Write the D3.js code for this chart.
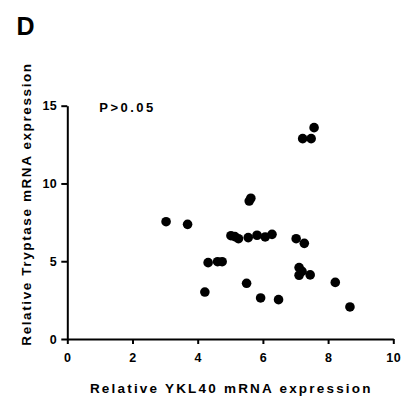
<!DOCTYPE html>
<html>
<head>
<meta charset="utf-8">
<script src="https://cdn.jsdelivr.net/npm/d3@7"></script>
<style>
  body { margin: 0; background: #fff; }
  text { font-family: "Liberation Sans", Arial, sans-serif; font-weight: bold; }
</style>
</head>
<body>
<div id="chart"></div>
<script>
// YKL40 vs Tryptase values
const ykl40 = [3.03, 3.69, 4.22, 4.32, 4.61, 4.75, 5.02, 5.14, 5.25, 5.50,
               5.55, 5.58, 5.63, 5.82, 5.93, 6.07, 6.28, 6.48, 7.02, 7.11,
               7.11, 7.20, 7.27, 7.22, 7.48, 7.57, 7.45, 8.22, 8.67];
const tryptase = [7.54, 7.37, 3.02, 4.91, 4.97, 4.97, 6.64, 6.58, 6.45, 3.58,
                  6.52, 8.87, 9.05, 6.67, 2.64, 6.56, 6.73, 2.53, 6.45, 4.59,
                  4.10, 4.35, 6.15, 12.88, 12.88, 13.59, 4.12, 3.64, 2.06];
const xTicks = [0, 2, 4, 6, 8, 10];
const yTicks = [0, 5, 10, 15];

const dims = {
    width: 411,
    height: 400,
    margin: { top: 105.7, right: 17.7, bottom: 61, left: 67.3 }
};
dims.innerW = dims.width - dims.margin.left - dims.margin.right;
dims.innerH = dims.height - dims.margin.top - dims.margin.bottom;

const svg = d3.select("#chart").append("svg")
    .attr("width", dims.width)
    .attr("height", dims.height);

svg.append("text")
    .attr("x", 16.5)
    .attr("y", 35)
    .attr("font-size", 25)
    .text("D");

const g = svg.append("g")
    .attr("transform", `translate(${dims.margin.left},${dims.margin.top})`);

const x = d3.scaleLinear().domain([0, 10]).range([0, dims.innerW]);
const y = d3.scaleLinear().domain([0, 15]).range([dims.innerH, 0]);

const xAxis = g.append("g")
    .attr("transform", `translate(0,${dims.innerH})`)
    .call(d3.axisBottom(x).tickValues(xTicks).tickSize(5).tickSizeOuter(0).tickPadding(9));

const yAxis = g.append("g")
    .call(d3.axisLeft(y).tickValues(yTicks).tickSize(6).tickSizeOuter(0).tickPadding(4));

[xAxis, yAxis].forEach(a => {
    a.selectAll("path, line").attr("stroke", "#000").attr("stroke-width", 2);
    a.selectAll("text")
        .attr("font-size", 12.5)
        .attr("font-weight", "bold")
        .attr("fill", "#000")
        .attr("letter-spacing", 0.5)
        .style("font-family", '"Liberation Sans", Arial, sans-serif');
});

g.selectAll("circle")
    .data(ykl40.map((v, i) => [v, tryptase[i]]))
    .join("circle")
    .attr("cx", d => x(d[0]))
    .attr("cy", d => y(d[1]))
    .attr("r", 4.8)
    .attr("fill", "#000");

g.append("text")
    .attr("x", x(0.98))
    .attr("y", y(15) + 6)
    .attr("font-size", 13)
    .attr("letter-spacing", 2.5)
    .text("P>0.05");

svg.append("text")
    .attr("x", dims.margin.left + dims.innerW / 2 + 1)
    .attr("y", 392.5)
    .attr("text-anchor", "middle")
    .attr("font-size", 13.5)
    .attr("letter-spacing", 2.2)
    .text("Relative YKL40 mRNA expression");

svg.append("text")
    .attr("transform", "translate(31,204) rotate(-90)")
    .attr("text-anchor", "middle")
    .attr("font-size", 13.5)
    .attr("letter-spacing", 1.6)
    .text("Relative Tryptase mRNA expression");
</script>
</body>
</html>
